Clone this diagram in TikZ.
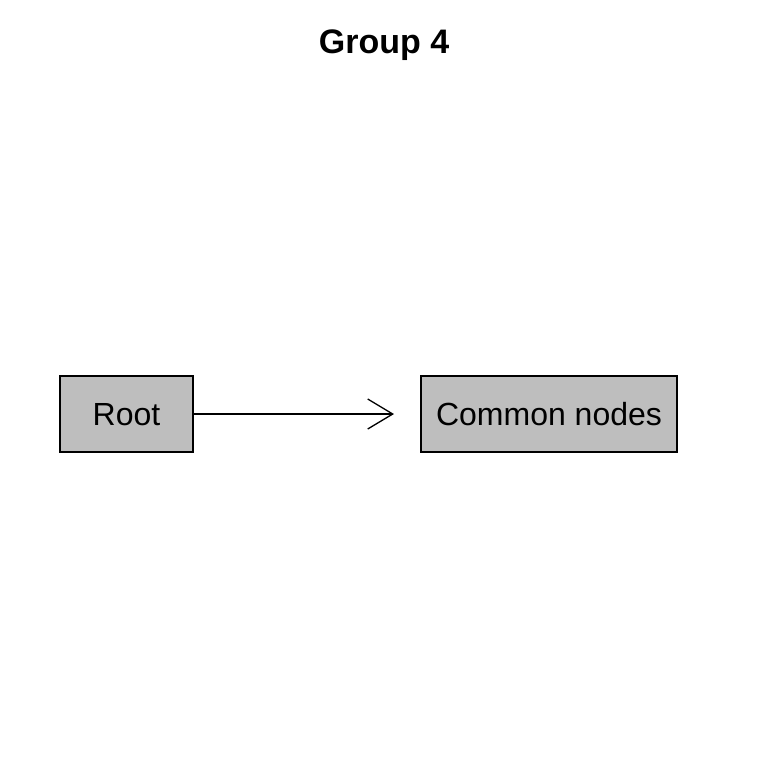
\documentclass[tikz,border=0pt]{standalone}
\usepackage{fontspec}
\setmainfont{Liberation Sans}
\usetikzlibrary{arrows.meta}
\begin{document}
\begin{tikzpicture}[x=1pt,y=-1pt,
  box/.style={draw=black,fill={rgb,255:red,190;green,190;blue,190},line width=1.3pt,inner sep=0pt,text depth=0pt,font=\fontsize{32}{36}\selectfont},
  conn/.style={line width=1.3pt,-{Straight Barb[length=25pt,width=30pt,line width=1.3pt]}}]
\useasboundingbox (0,0) rectangle (768,768);
\node[font=\bfseries\fontsize{34}{40}\selectfont] (title) at (384,45) {Group 4};
\node[box,minimum width=133pt,minimum height=76pt] (root) at (126.5,414) {Root};
\node[box,minimum width=256pt,minimum height=76pt] (common) at (549,414) {Common nodes};
\coordinate (tip) at (394,414);
\draw[conn] (root.east) -- (tip);
\end{tikzpicture}
\end{document}
